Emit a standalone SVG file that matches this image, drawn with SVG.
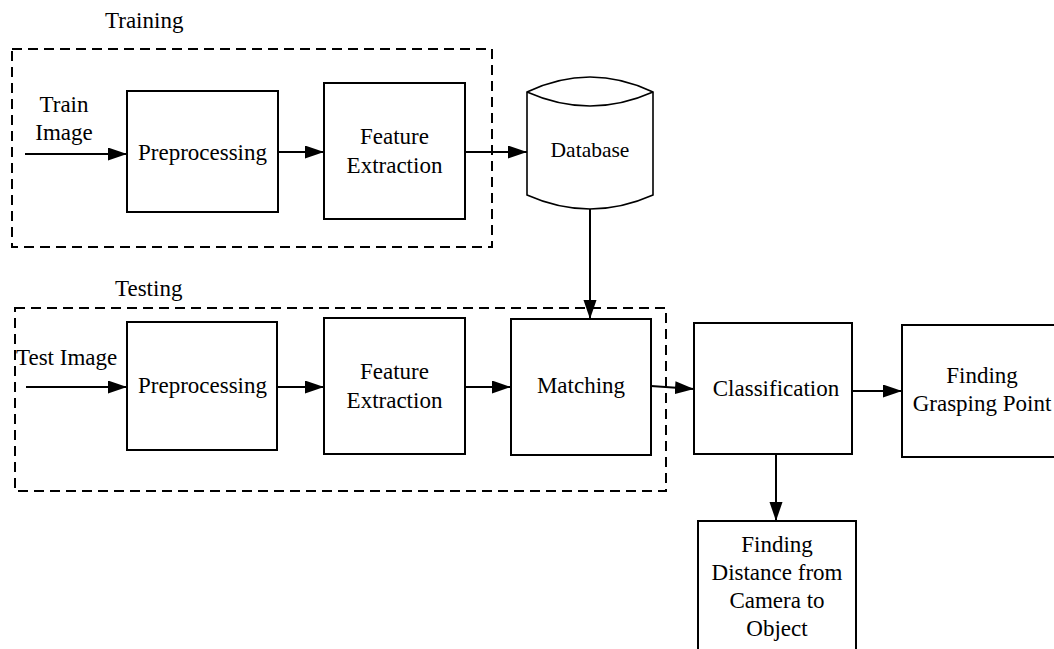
<svg xmlns="http://www.w3.org/2000/svg" width="1054" height="649" viewBox="0 0 1054 649">
<style>
.box{fill:#fff;stroke:#000;stroke-width:2}
.dash{fill:none;stroke:#000;stroke-width:2;stroke-dasharray:10 6}
.ln{fill:none;stroke:#000;stroke-width:2;marker-end:url(#ah)}
text{font-family:"Liberation Serif","Times New Roman",serif;font-size:23px;fill:#000}
.c{text-anchor:middle}
</style>
<defs>
<marker id="ah" markerUnits="userSpaceOnUse" markerWidth="20" markerHeight="14" refX="19" refY="6.5" orient="auto">
<path d="M0,0 L19,6.5 L0,13 Z" fill="#000"/>
</marker>
</defs>
<rect width="1054" height="649" fill="#fff"/>
<g id="training-group">
<rect class="dash" x="12" y="49" width="480" height="198"/>
<text x="105" y="28">Training</text>
</g>
<g id="testing-group">
<rect class="dash" x="15" y="308" width="651" height="183"/>
<text x="115" y="296">Testing</text>
</g>
<g id="connectors">
<line class="ln" x1="25" y1="154" x2="127" y2="154"/>
<line class="ln" x1="278" y1="152" x2="324" y2="152"/>
<line class="ln" x1="465" y1="152" x2="527" y2="152"/>
<line class="ln" x1="590" y1="209" x2="590" y2="319"/>
<line class="ln" x1="26" y1="387" x2="127" y2="387"/>
<line class="ln" x1="277" y1="387" x2="324" y2="387"/>
<line class="ln" x1="465" y1="387" x2="511" y2="387"/>
<line class="ln" x1="651" y1="386" x2="694" y2="389"/>
<line class="ln" x1="852" y1="391" x2="902" y2="391"/>
<line class="ln" x1="776" y1="454" x2="776" y2="521"/>
</g>
<g id="train-image-label">
<text class="c" x="64" y="112">Train</text>
<text class="c" x="64" y="140">Image</text>
</g>
<g id="test-image-label">
<text x="16" y="365">Test Image</text>
</g>
<g id="preprocessing-train">
<rect class="box" x="127" y="91" width="151" height="121"/>
<text class="c" x="202.5" y="160">Preprocessing</text>
</g>
<g id="feature-extraction-train">
<rect class="box" x="324" y="83" width="141" height="136"/>
<text class="c" x="394.5" y="144">Feature</text>
<text class="c" x="394.5" y="173">Extraction</text>
</g>
<g id="database">
<path d="M527,92 Q590,62 653,92 L653,195 Q590,223 527,195 Z" fill="#fff" stroke="#000" stroke-width="1.6"/>
<path d="M527,92 Q590,120 653,92" fill="none" stroke="#000" stroke-width="1.6"/>
<text class="c" x="590" y="157" style="font-size:21.5px">Database</text>
</g>
<g id="preprocessing-test">
<rect class="box" x="127" y="322" width="150" height="128"/>
<text class="c" x="202.5" y="393">Preprocessing</text>
</g>
<g id="feature-extraction-test">
<rect class="box" x="324" y="318" width="141" height="136"/>
<text class="c" x="394.5" y="379">Feature</text>
<text class="c" x="394.5" y="408">Extraction</text>
</g>
<g id="matching">
<rect class="box" x="511" y="319" width="140" height="136"/>
<text class="c" x="581" y="393">Matching</text>
</g>
<g id="classification">
<rect class="box" x="694" y="323" width="158" height="131"/>
<text class="c" x="776" y="396">Classification</text>
</g>
<g id="grasping-point">
<rect class="box" x="902" y="325" width="160" height="132"/>
<text class="c" x="982" y="383">Finding</text>
<text class="c" x="982" y="411">Grasping Point</text>
</g>
<g id="distance">
<rect class="box" x="698" y="521" width="158" height="140"/>
<text class="c" x="777" y="552">Finding</text>
<text class="c" x="777" y="580">Distance from</text>
<text class="c" x="777" y="608">Camera to</text>
<text class="c" x="777" y="636">Object</text>
</g>
</svg>
